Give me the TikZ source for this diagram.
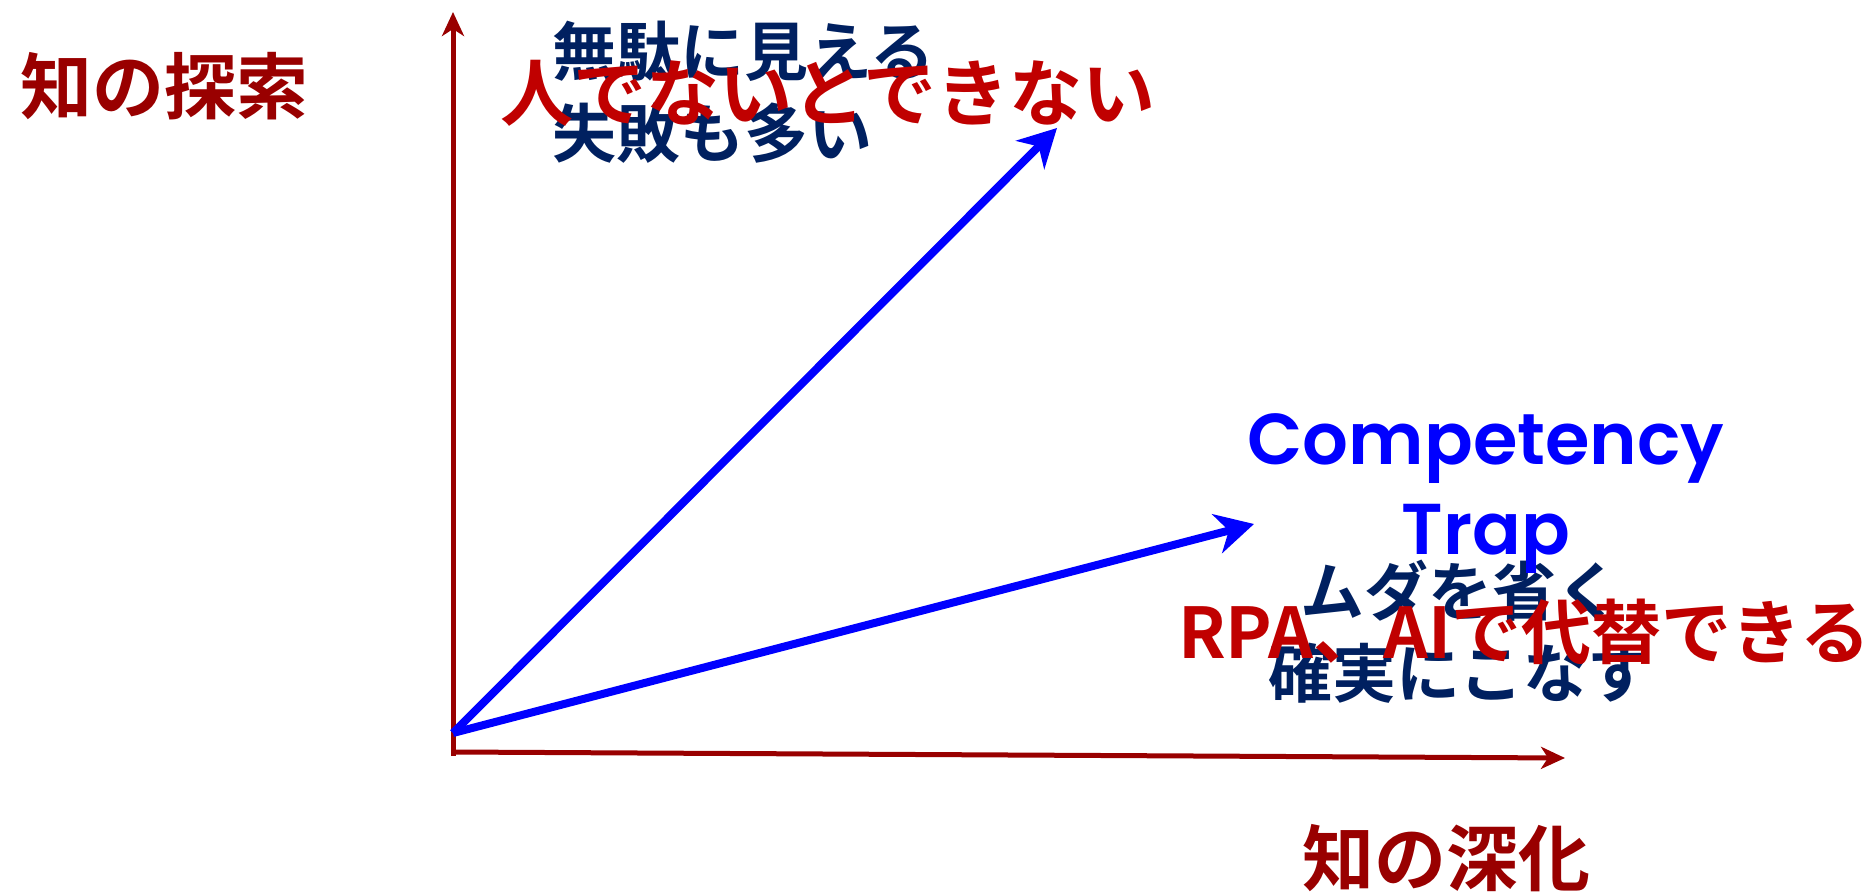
\documentclass[tikz,border=0pt]{standalone}
\usepackage{fontspec}
\usetikzlibrary{arrows.meta}
\newfontfamily\jp{Noto Sans CJK JP}[BoldFont={Noto Sans CJK JP Bold}]
\newfontfamily\pop{Poppins}[BoldFont={Poppins SemiBold}]
\definecolor{axisred}{HTML}{990000}
\definecolor{brightred}{HTML}{C00000}
\definecolor{navy}{HTML}{002060}
\definecolor{pureblue}{HTML}{0000FF}
\tikzset{
  axis/.style={draw=axisred, line width=5pt, -{Stealth[length=24pt,width=22pt,inset=7pt]}},
  vec/.style={draw=pureblue, line width=8pt, -{Stealth[length=38pt,width=40pt,inset=12pt]}},
  axlabel/.style={text=axisred, font=\jp\bfseries\fontsize{72}{80}\selectfont, inner sep=0pt},
  note/.style={text=navy, font=\jp\bfseries\fontsize{64}{82}\selectfont, inner sep=0pt},
  redtxt/.style={text=brightred, font=\jp\bfseries\fontsize{73}{80}\selectfont, inner sep=0pt},
  bluetxt/.style={text=pureblue, font=\pop\bfseries\fontsize{72}{90}\selectfont, inner sep=0pt, align=center}
}
\begin{document}
\begin{tikzpicture}[x=1pt,y=-1pt]
\useasboundingbox (0,0) rectangle (1869,896);
\coordinate (O) at (453,756);
\coordinate (H0) at (453,752);
\coordinate (ytip) at (453,12);
\coordinate (xtip) at (1565,758);
\coordinate (B) at (453,733);
\coordinate (a1) at (1057,128);
\coordinate (a2) at (1254,524);
% axes
\draw[axis] (O) -- (ytip);
\draw[axis] (H0) -- (xtip);
% vectors
\draw[vec] (B) -- (a1);
\draw[vec] (B) -- (a2);
% axis labels
\node[axlabel] (explore) at (164,86) {知の探索};
\node[axlabel] (exploit) at (1446,858) {知の深化};
% navy notes
\node[note, align=left, anchor=west] (waste) at (552,92) {無駄に見える\\失敗も多い};
\node[note, align=center] (sure) at (1460,632) {ムダを省く\\確実にこなす};
% competency trap
\node[bluetxt] (trap) at (1486,494) {Competency\\Trap};
% red overlays
\node[redtxt] (human) at (828,93) {人でないとできない};
\node[redtxt, anchor=west, font=\jp\bfseries\fontsize{70}{80}\selectfont] (rpa) at (1178,632) {RPA、AIで代替できる};
\end{tikzpicture}
\end{document}
